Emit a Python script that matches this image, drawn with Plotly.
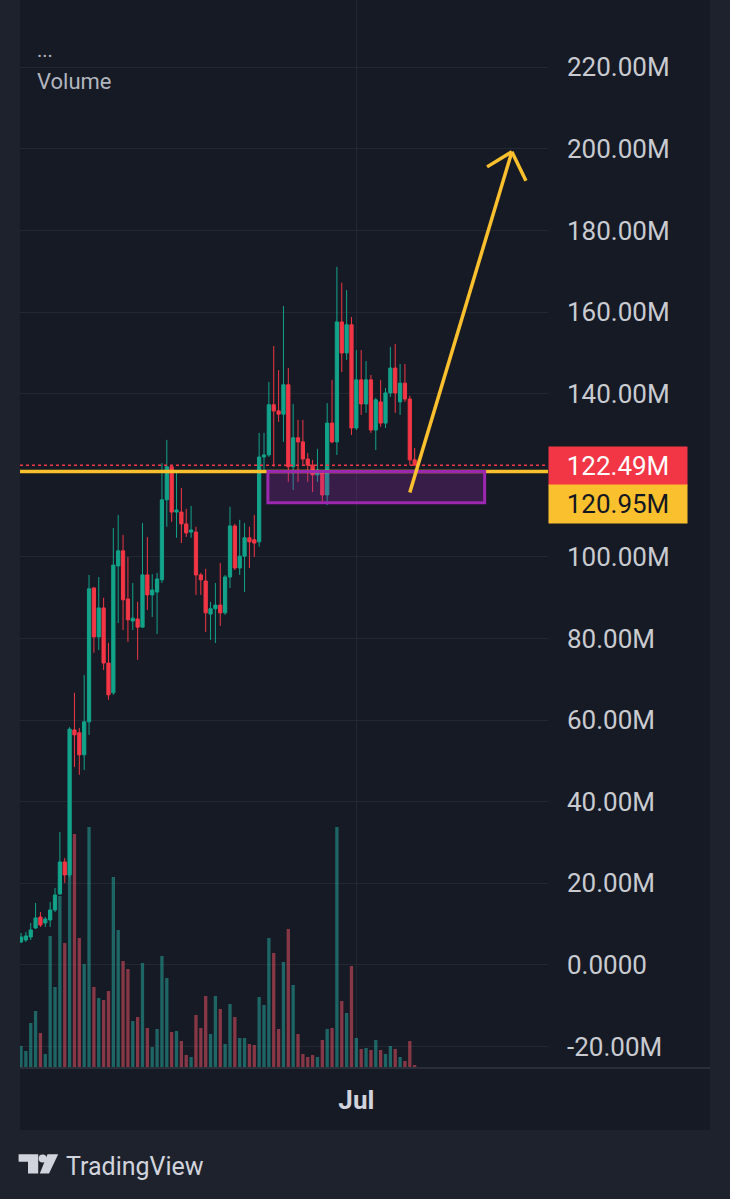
import plotly.graph_objects as go

# ---------------- data (values in millions) ----------------
opens = [5.64, 6.13, 6.86, 9.07, 11.76, 10.29, 11.03, 13.48, 17.40, 25.25,
         22.06, 57.6, 56.9, 51.5, 59.6, 92.4, 80.4, 87.5, 74.0, 66.7,
         97.8, 101.5, 89.7, 84.3, 84.8, 82.8, 95.6, 90.7, 91.4, 94.4,
         114.0, 122.1, 111.0, 111.0, 108.1, 106.1, 106.1, 95.6, 94.1, 86.0,
         87.3, 88.2, 86.3, 95.1, 107.6, 97.3, 100.2, 104.7, 104.2, 103.7,
         124.5, 125.0, 137.3, 135.8, 135.0, 142.2, 122.1, 129.2, 128.2, 124.0,
         122.5, 120.1, 121.1, 115.2, 132.8, 128.2, 157.6, 150.0, 156.9, 131.6,
         143.4, 137.5, 143.4, 131.1, 138.0, 132.8, 140.2, 146.3, 138.0, 142.6,
         138.7, 123.8]
highs = [7.84, 8.09, 10.29, 15.2, 12.99, 11.76, 15.44, 18.87, 32.6, 26.2,
         58.3, 66.7, 58.1, 71.1, 95.6, 92.6, 95.1, 90.0, 78.9, 107.1,
         110.3, 105.4, 100.0, 93.6, 89.0, 108.3, 104.9, 95.8, 96.1, 123.0,
         128.7, 122.5, 120.8, 116.9, 111.8, 112.5, 107.4, 96.1, 97.1, 89.0,
         93.6, 98.5, 95.6, 112.3, 108.1, 109.1, 108.3, 107.4, 110.3, 130.4,
         130.4, 142.9, 151.7, 145.8, 161.5, 146.3, 137.5, 133.6, 133.6, 125.5,
         123.8, 126.5, 121.3, 137.7, 143.4, 171.1, 167.2, 165.4, 158.8, 150.7,
         150.7, 148.0, 144.6, 139.0, 143.4, 141.4, 151.5, 152.2, 147.3, 147.3,
         139.5, 126.7]
lows = [5.39, 5.64, 6.13, 8.82, 9.31, 9.31, 9.31, 12.99, 17.16, 20.1,
        21.57, 48.5, 46.6, 47.8, 56.4, 76.5, 77.2, 72.3, 65.0, 66.2,
        83.8, 82.1, 79.2, 82.1, 74.8, 82.8, 87.0, 85.3, 81.1, 93.6,
        107.4, 108.6, 104.7, 103.4, 104.9, 104.7, 90.7, 90.7, 81.6, 79.7,
        78.9, 83.1, 85.8, 92.4, 96.8, 95.6, 91.4, 97.3, 100.0, 102.5,
        120.6, 124.5, 122.1, 133.1, 128.2, 118.4, 116.4, 118.4, 122.5, 118.4,
        115.9, 118.4, 113.2, 112.7, 127.9, 125.0, 145.3, 148.3, 129.9, 131.1,
        134.8, 135.3, 130.4, 126.2, 131.9, 131.6, 139.2, 135.3, 134.8, 138.0,
        122.5, 122.4]
closes = [6.86, 7.11, 8.58, 11.52, 9.80, 11.27, 13.48, 17.16, 25.25, 22.06,
          57.8, 56.4, 51.5, 59.6, 92.2, 80.4, 87.5, 74.0, 66.2, 98.0,
          101.5, 89.5, 84.6, 85.0, 82.8, 95.6, 90.7, 91.9, 94.6, 114.0,
          122.1, 111.0, 111.5, 108.1, 105.9, 106.6, 95.6, 94.4, 86.3, 87.3,
          88.2, 86.3, 95.1, 107.6, 97.3, 100.2, 104.7, 103.7, 103.4, 124.5,
          125.0, 137.3, 135.8, 135.0, 142.2, 122.1, 129.2, 128.2, 124.0, 122.5,
          120.1, 121.3, 115.2, 132.8, 128.2, 157.6, 150.0, 156.9, 131.6, 143.4,
          137.5, 143.4, 131.1, 138.5, 132.8, 140.2, 146.3, 140.2, 142.6, 138.7,
          123.8, 122.49]
volumes = [2.2, 1.7, 4.5, 5.7, 3.5, 1.4, 13.2, 8.1, 17.2, 12.5,
           22.7, 23.4, 13.0, 10.4, 24.1, 8.1, 7.0, 6.8, 7.7, 19.1,
           13.8, 10.7, 9.9, 4.7, 5.1, 10.5, 4.0, 2.1, 3.9, 11.2,
           9.0, 3.6, 3.7, 2.7, 1.3, 1.1, 5.3, 4.0, 7.2, 3.4,
           7.2, 5.9, 2.4, 6.4, 5.1, 3.0, 3.0, 2.4, 2.3, 7.1,
           6.3, 13.0, 11.5, 3.9, 10.6, 13.9, 8.3, 3.4, 1.4, 1.1,
           1.3, 1.1, 2.8, 3.9, 4.0, 24.1, 6.7, 5.5, 10.2, 3.0,
           1.9, 2.0, 1.8, 2.8, 1.8, 1.4, 2.2, 1.9, 1.1, 0.7,
           2.7, 0.3]

last_price = 122.49
level_price = 120.95
price_tick_vals = [-20, 0, 20, 40, 60, 80, 100, 140, 160, 180, 200, 220]
price_tick_text = ["-20.00M", "0.0000", "20.00M", "40.00M", "60.00M", "80.00M",
                   "100.00M", "140.00M", "160.00M", "180.00M", "200.00M", "220.00M"]
time_tick_vals = [69]
time_tick_text = ["Jul"]

zone_x = [50.8, 95.4]
zone_y = [113.3, 120.95]
arrow_tail = [80.0, 115.8]
arrow_tip = [101.0, 199.3]
barb_left = [95.9, 195.6]
barb_right = [103.9, 192.2]

idx = list(range(len(opens)))

# ---------------- styling ----------------
GREEN = "#12a38a"
RED = "#f23645"
YELLOW = "#fbc02d"
PURPLE = "#9c27b0"
GRID = "#232732"
PANEL = "#161a25"
OUTER = "#1e222d"
TEXT = "#c9cbd1"
FONT = "Roboto"

W, H = 730, 1199
PL, PR, PT, PB = 20, 548, 0, 1068  # plot area in pixels


def fx(p):
    return (p - PL) / (PR - PL)


def fy(p):
    return (PB - p) / (PB - PT)


vol_colors = ["rgba(38,166,154,0.55)" if c >= o else "rgba(239,83,100,0.52)"
              for o, c in zip(opens, closes)]

fig = go.Figure()
fig.add_trace(go.Bar(x=idx, y=volumes, marker=dict(color=vol_colors, line=dict(width=0)),
                     yaxis="y", showlegend=False, hoverinfo="skip"))
fig.add_trace(go.Candlestick(
    x=idx, open=opens, high=highs, low=lows, close=closes, yaxis="y2",
    increasing=dict(line=dict(color=GREEN, width=1), fillcolor=GREEN),
    decreasing=dict(line=dict(color=RED, width=1), fillcolor=RED),
    whiskerwidth=0, showlegend=False))

shapes = [
    # dark chart panel (price & time axis areas)
    dict(type="rect", xref="paper", yref="paper", x0=0, x1=fx(710), y0=fy(1130), y1=1,
         fillcolor=PANEL, line=dict(width=0), layer="below"),
    # separator under plot
    dict(type="line", xref="paper", yref="paper", x0=0, x1=fx(710), y0=0, y1=0,
         line=dict(color="#2a2e39", width=2)),
    # last price dotted line
    dict(type="line", xref="paper", yref="y2", x0=0, x1=1, y0=last_price, y1=last_price,
         line=dict(color=RED, width=1.5, dash="dot"), layer="above"),
    # horizontal level
    dict(type="line", xref="paper", yref="y2", x0=0, x1=1, y0=level_price, y1=level_price,
         line=dict(color=YELLOW, width=3.5), layer="above"),
    # zone rectangle
    dict(type="rect", xref="x", yref="y2", x0=zone_x[0], x1=zone_x[1], y0=zone_y[0], y1=zone_y[1],
         fillcolor="rgba(156,39,176,0.25)", line=dict(color=PURPLE, width=3), layer="above"),
    # arrow
    dict(type="line", xref="x", yref="y2", x0=arrow_tail[0], y0=arrow_tail[1],
         x1=arrow_tip[0], y1=arrow_tip[1], line=dict(color=YELLOW, width=3.5), layer="above"),
    dict(type="line", xref="x", yref="y2", x0=barb_left[0], y0=barb_left[1],
         x1=arrow_tip[0], y1=arrow_tip[1], line=dict(color=YELLOW, width=3.5), layer="above"),
    dict(type="line", xref="x", yref="y2", x0=barb_right[0], y0=barb_right[1],
         x1=arrow_tip[0], y1=arrow_tip[1], line=dict(color=YELLOW, width=3.5), layer="above"),
    # TradingView logo
    dict(type="path", xref="paper", yref="paper",
         path=f"M {fx(18.6)},{fy(1154.3)} L {fx(38.2)},{fy(1154.3)} L {fx(38.2)},{fy(1173.5)} "
              f"L {fx(28.0)},{fy(1173.5)} L {fx(28.0)},{fy(1161.7)} L {fx(18.6)},{fy(1161.7)} Z",
         fillcolor="#d1d4dc", line=dict(width=0)),
    dict(type="circle", xref="paper", yref="paper", x0=fx(38.6), x1=fx(46.6), y0=fy(1162.5), y1=fy(1154.5),
         fillcolor="#d1d4dc", line=dict(width=0)),
    dict(type="path", xref="paper", yref="paper",
         path=f"M {fx(47.5)},{fy(1154.3)} L {fx(58.2)},{fy(1154.3)} L {fx(49.0)},{fy(1173.5)} "
              f"L {fx(39.8)},{fy(1173.5)} Z",
         fillcolor="#d1d4dc", line=dict(width=0)),
]

annotations = [
    dict(xref="paper", yref="paper", x=fx(35), y=fy(50), text="...", showarrow=False,
         xanchor="left", yanchor="middle", font=dict(family=FONT, size=20, color="#b2b5be")),
    dict(xref="paper", yref="paper", x=fx(35), y=fy(82), text="Volume", showarrow=False,
         xanchor="left", yanchor="middle", font=dict(family=FONT, size=22, color="#b2b5be")),
    dict(xref="paper", yref="y2", x=1, y=last_price, text=f"{last_price:.2f}M", showarrow=False,
         xanchor="left", yanchor="middle", bgcolor=RED, width=132, height=32, borderpad=3,
         yshift=-1, align="center", font=dict(family=FONT, size=26, color="#ffffff")),
    dict(xref="paper", yref="y2", x=1, y=level_price, text=f"{level_price:.2f}M", showarrow=False,
         xanchor="left", yanchor="middle", bgcolor=YELLOW, width=132, height=32, borderpad=3,
         yshift=-33, align="center", font=dict(family=FONT, size=26, color="#131722")),
    dict(xref="paper", yref="paper", x=fx(64), y=fy(1166), text="TradingView", showarrow=False,
         xanchor="left", yanchor="middle", font=dict(family=FONT, size=25, color="#d1d4dc")),
]

x_left = -1 / 4.86
x_right = x_left + (PR - PL) / 4.86

fig.update_layout(
    width=W, height=H,
    margin=dict(l=PL, r=W - PR, t=PT, b=H - PB, pad=0),
    paper_bgcolor=OUTER, plot_bgcolor=PANEL,
    bargap=0.32, boxgap=0.05,
    font=dict(family=FONT, color=TEXT),
    xaxis=dict(range=[x_left, x_right], tickvals=time_tick_vals, ticktext=time_tick_text,
               showgrid=True, gridcolor=GRID, gridwidth=1, zeroline=False, showline=False,
               ticks="", ticklabelstandoff=14, rangeslider=dict(visible=False),
               tickfont=dict(family=FONT, size=26, color="#d1d4dc", weight="bold")),
    yaxis=dict(range=[0, 106.8], visible=False, showgrid=False, zeroline=False),
    yaxis2=dict(overlaying="y", side="right", range=[-25.25, 236.5],
                tickvals=price_tick_vals, ticktext=price_tick_text,
                showgrid=True, gridcolor=GRID, gridwidth=1, zeroline=False, showline=False,
                ticks="", ticklabelstandoff=18,
                tickfont=dict(family=FONT, size=26, color=TEXT)),
    shapes=shapes, annotations=annotations, showlegend=False,
)

fig.write_html("out.html")
